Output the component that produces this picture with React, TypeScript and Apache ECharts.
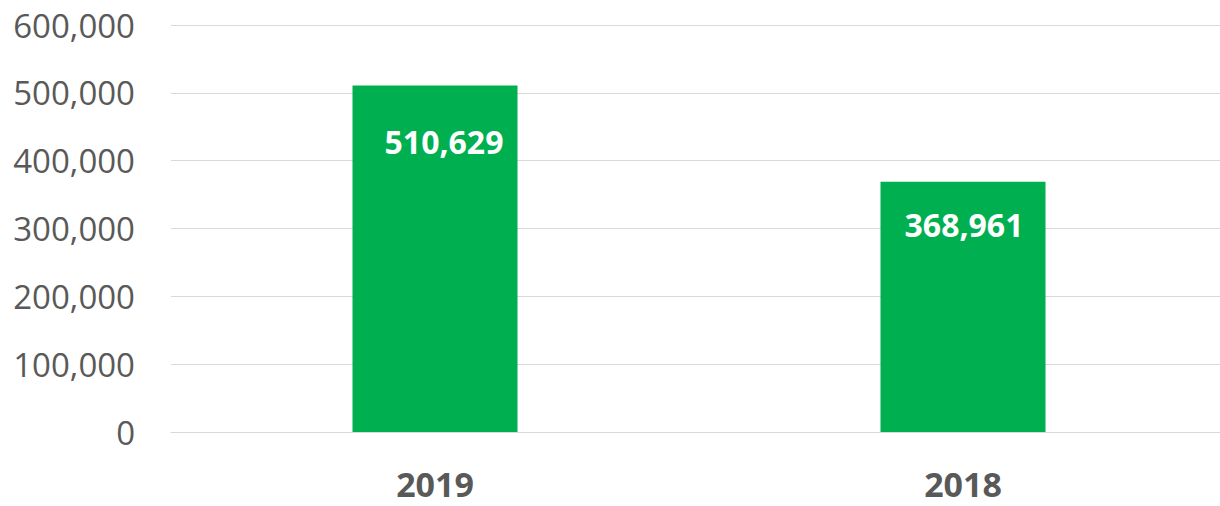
import React, { useEffect, useRef } from "react";
import * as echarts from "echarts";

const categories = ["2019", "2018"];
const values = [510629, 368961];
const yTicks = [0, 100000, 200000, 300000, 400000, 500000, 600000];

export default function App() {
  const ref = useRef<HTMLDivElement>(null);
  useEffect(() => {
    const chart = echarts.init(ref.current!, null, { renderer: "svg" });
    const labelTweaks = [
      { offset: [9, 0], distance: 40 },
      { offset: [1, 0], distance: 27 },
    ];
    chart.setOption({
      animation: false,
      textStyle: { fontFamily: "Open Sans" },
      grid: { left: 171, width: 1056, top: 25, bottom: 74, outerBoundsMode: "none" },
      xAxis: {
        type: "category",
        data: categories,
        axisLine: { show: true, lineStyle: { color: "#d9d9d9", width: 1 } },
        axisTick: { show: false },
        axisLabel: {
          color: "#595959",
          fontSize: 34,
          fontWeight: "bold",
          fontFamily: "Open Sans",
          margin: 35,
        },
      },
      yAxis: {
        type: "value",
        min: yTicks[0],
        max: yTicks[yTicks.length - 1],
        interval: 100000,
        axisLine: { show: false },
        axisTick: { show: false },
        splitLine: { lineStyle: { color: "#d9d9d9", width: 1 } },
        axisLabel: {
          color: "#595959",
          fontSize: 33,
          fontFamily: "Open Sans",
          margin: 36,
          formatter: (v: number) => v.toLocaleString("en-US"),
        },
      },
      series: [
        {
          type: "bar",
          barWidth: 165,
          itemStyle: { color: "#00b050" },
          data: values.map((v, i) => ({
            value: v,
            label: {
              offset: labelTweaks[i].offset,
              distance: labelTweaks[i].distance,
            },
          })),
          label: {
            show: true,
            position: "insideTop",
            color: "#ffffff",
            fontSize: 32,
            fontWeight: "bold",
            fontFamily: "Open Sans",
            formatter: (p: any) => Number(p.value).toLocaleString("en-US"),
          },
        },
      ],
    });
    return () => chart.dispose();
  }, []);
  return (
    <div
      ref={ref}
      style={{ position: "fixed", left: 0, top: 0, width: 1220, height: 506, background: "#ffffff" }}
    />
  );
}
